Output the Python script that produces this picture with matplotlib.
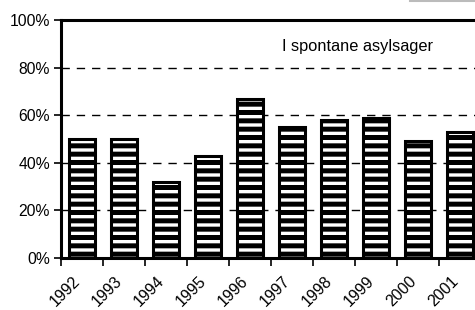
import matplotlib
matplotlib.use("Agg")
import matplotlib.pyplot as plt
from matplotlib.lines import Line2D

years = ["1992", "1993", "1994", "1995", "1996", "1997", "1998", "1999", "2000", "2001"]
values = [50, 50, 32, 43, 67, 55, 58, 59, 49, 53]
yticks = [0, 20, 40, 60, 80, 100]
ytick_labels = ["0%", "20%", "40%", "60%", "80%", "100%"]
label_text = "I spontane asylsager"

plt.rcParams['font.family'] = ['Liberation Sans', 'DejaVu Sans']
plt.rcParams['hatch.linewidth'] = 3.6
plt.rcParams['hatch.color'] = 'black'

W, H = 475, 310
fig = plt.figure(figsize=(W / 100, H / 100), dpi=100)
left_px, right_px = 61, 61 + 11 * 42
top_px, bot_px = 20, 258
ax = fig.add_axes([left_px / W, (H - bot_px) / H, (right_px - left_px) / W, (bot_px - top_px) / H])

x = list(range(len(years)))
ax.bar(x, values, width=0.62, facecolor='white', edgecolor='black', linewidth=2.2,
       hatch='--', zorder=3)

ax.set_xlim(-0.5, 10.5)
ax.set_ylim(0, 100)
ax.set_yticks(yticks)
ax.set_yticklabels(ytick_labels, fontsize=11.3)
for g in [20, 40, 60, 80]:
    ax.axhline(g, color='black', linewidth=1.0, linestyle=(0, (6, 5)), zorder=1)

ax.set_xticks([i + 0.5 for i in range(-1, 11)])
ax.set_xticklabels([])
ax.tick_params(axis='x', direction='out', length=6, width=1.2)
ax.tick_params(axis='y', direction='out', length=5, width=1.2, pad=3)
for i, yr in enumerate(years):
    ax.text(i - 0.22, -6.5, yr, rotation=45, ha='right', va='top', fontsize=11.5,
            rotation_mode='anchor', transform=ax.transData)

for s in ['left', 'top', 'bottom']:
    ax.spines[s].set_linewidth(2.2)
ax.spines['right'].set_visible(False)

ax.text(6.57, 89, label_text, ha='center', va='center', fontsize=11.8)

fig.add_artist(Line2D([410 / W, 1.0], [1 - 1 / H, 1 - 1 / H], color='#bbbbbb', linewidth=1.5,
                      transform=fig.transFigure))

fig.savefig("out.png", dpi=100)
